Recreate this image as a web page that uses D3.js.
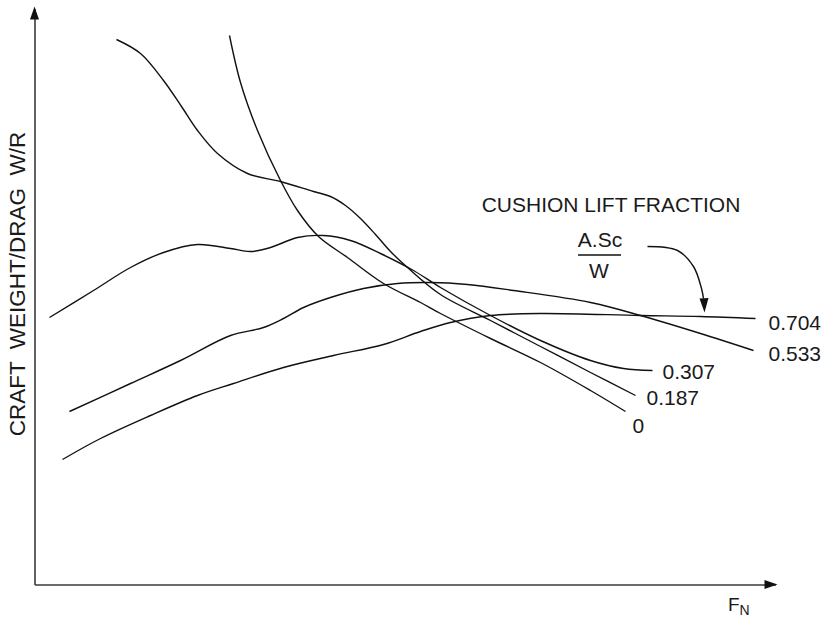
<!DOCTYPE html>
<html>
<head>
<meta charset="utf-8">
<script src="https://cdn.jsdelivr.net/npm/d3@7"></script>
<style>
  html, body { margin: 0; padding: 0; background: #fff; }
  svg { display: block; }
  text { font-family: "Liberation Sans", Arial, Helvetica, sans-serif; fill: #1a1a1a; }
</style>
</head>
<body>
<svg id="chart" width="825" height="619"></svg>
<script>
// ---- data (Fn, W/R in arbitrary chart units) ----
const seriesNames = ["0.704", "0.533", "0.307", "0.187", "0"];

const s0704 = [[0.28,1.25],[0.66,1.46],[1.16,1.69],[1.63,1.89],[1.99,2.01],[2.49,2.17],[2.99,2.29],[3.49,2.40],[3.86,2.53],[4.16,2.62],[4.56,2.69],[5.06,2.71],[6.06,2.69],[6.66,2.68],[7.21,2.66]];
const s0533 = [[0.35,1.73],[0.96,2.01],[1.46,2.24],[1.96,2.49],[2.29,2.57],[2.49,2.66],[2.69,2.77],[2.96,2.87],[3.29,2.96],[3.63,3.01],[3.96,3.02],[4.33,3.00],[4.79,2.94],[5.56,2.82],[6.06,2.69],[6.66,2.51],[7.19,2.34]];
const s0307 = [[0.15,2.67],[0.59,2.94],[0.96,3.17],[1.29,3.32],[1.63,3.40],[1.96,3.36],[2.16,3.33],[2.36,3.37],[2.63,3.47],[2.89,3.49],[3.16,3.44],[3.46,3.31],[3.79,3.14],[4.06,2.97],[4.56,2.69],[5.06,2.44],[5.56,2.24],[5.89,2.16],[6.18,2.14]];
const s0187 = [[0.82,5.45],[1.06,5.31],[1.29,5.04],[1.47,4.78],[1.63,4.54],[1.83,4.31],[2.13,4.11],[2.46,4.03],[2.79,3.93],[2.96,3.88],[3.11,3.79],[3.26,3.66],[3.41,3.50],[3.56,3.33],[3.73,3.17],[4.06,2.90],[4.56,2.64],[5.06,2.38],[5.56,2.12],[6.01,1.89]];
const s0000 = [[1.95,5.49],[2.06,5.02],[2.23,4.54],[2.46,4.04],[2.63,3.74],[2.84,3.48],[3.13,3.27],[3.49,3.01],[3.86,2.82],[4.06,2.71],[4.56,2.46],[5.06,2.22],[5.56,1.94],[5.91,1.73]];
const seriesValues = [s0704, s0533, s0307, s0187, s0000];

// annotation arrow path (chart units)
const arrowPts = [[6.13,3.38],[6.43,3.34],[6.59,3.18],[6.67,2.96],[6.69,2.86]];
const arrowTip = [6.70,2.72];

// ---- layout / style ----
const labelOffsets = [[13,11.5],[15,10.5],[10,8.5],[11,9.5],[7,21.5]];

const svg = d3.select("#chart");
const x = d3.scaleLinear().domain([0, 7.41]).range([34.5, 775.5]);
const y = d3.scaleLinear().domain([0, 5.76]).range([584.5, 8.5]);

// axes (no ticks)
const axisColor = "#3a3a3a";
const gx = svg.append("g").attr("transform", `translate(0,${y(0)})`)
  .call(d3.axisBottom(x).tickValues([]).tickSizeOuter(0));
const gy = svg.append("g").attr("transform", `translate(${x(0)},0)`)
  .call(d3.axisLeft(y).tickValues([]).tickSizeOuter(0));
[gx, gy].forEach(g => g.select(".domain").attr("stroke", axisColor).attr("stroke-width", 1.6));

// arrowheads of axes
const xe = x.range()[1], y0 = y(0);
svg.append("path")
  .attr("d", `M${xe+2},${y0} L${xe-11},${y0-4.5} L${xe-11},${y0+4.5} Z`)
  .attr("fill", "#111");
const ye = y.range()[1], x0 = x(0);
svg.append("path")
  .attr("d", `M${x0},${ye-2} L${x0-4.5},${ye+11} L${x0+4.5},${ye+11} Z`)
  .attr("fill", "#111");

// curves
const line = d3.line().x(d => x(d[0])).y(d => y(d[1])).curve(d3.curveCatmullRom.alpha(0.5));
svg.append("g").selectAll("path").data(seriesValues).join("path")
  .attr("d", line)
  .attr("fill", "none")
  .attr("stroke", "#111")
  .attr("stroke-width", 1.4);

// series labels
svg.append("g").selectAll("text").data(seriesValues).join("text")
  .attr("x", (d, i) => x(d[d.length-1][0]) + labelOffsets[i][0])
  .attr("y", (d, i) => y(d[d.length-1][1]) + labelOffsets[i][1])
  .attr("font-size", 21)
  .text((d, i) => seriesNames[i]);

// axis titles
svg.append("text")
  .attr("transform", "translate(25,284) rotate(-90)")
  .attr("text-anchor", "middle")
  .attr("font-size", 22.5)
  .style("white-space", "pre")
  .text("CRAFT  WEIGHT/DRAG  W/R");

const fn = svg.append("text").attr("x", 728).attr("y", 611).attr("font-size", 19);
fn.append("tspan").text("F");
fn.append("tspan").attr("font-size", 14).attr("dy", 4).text("N");

// annotation
svg.append("text").attr("x", 611).attr("y", 212).attr("text-anchor", "middle")
  .attr("font-size", 21).text("CUSHION LIFT FRACTION");
svg.append("text").attr("x", 600).attr("y", 247).attr("text-anchor", "middle")
  .attr("font-size", 21).text("A.Sc");
svg.append("line").attr("x1", 578).attr("x2", 621).attr("y1", 255).attr("y2", 255)
  .attr("stroke", "#111").attr("stroke-width", 1.4);
svg.append("text").attr("x", 599).attr("y", 278).attr("text-anchor", "middle")
  .attr("font-size", 21).text("W");

svg.append("path")
  .attr("d", d3.line().x(d => x(d[0])).y(d => y(d[1])).curve(d3.curveCatmullRom.alpha(0.5))(arrowPts))
  .attr("fill", "none").attr("stroke", "#111").attr("stroke-width", 1.4);
const tx = x(arrowTip[0]), ty = y(arrowTip[1]);
svg.append("path")
  .attr("d", `M${tx},${ty} L${tx-5},${ty-14} L${tx+4},${ty-14.5} Z`)
  .attr("fill", "#111");
</script>
</body>
</html>
